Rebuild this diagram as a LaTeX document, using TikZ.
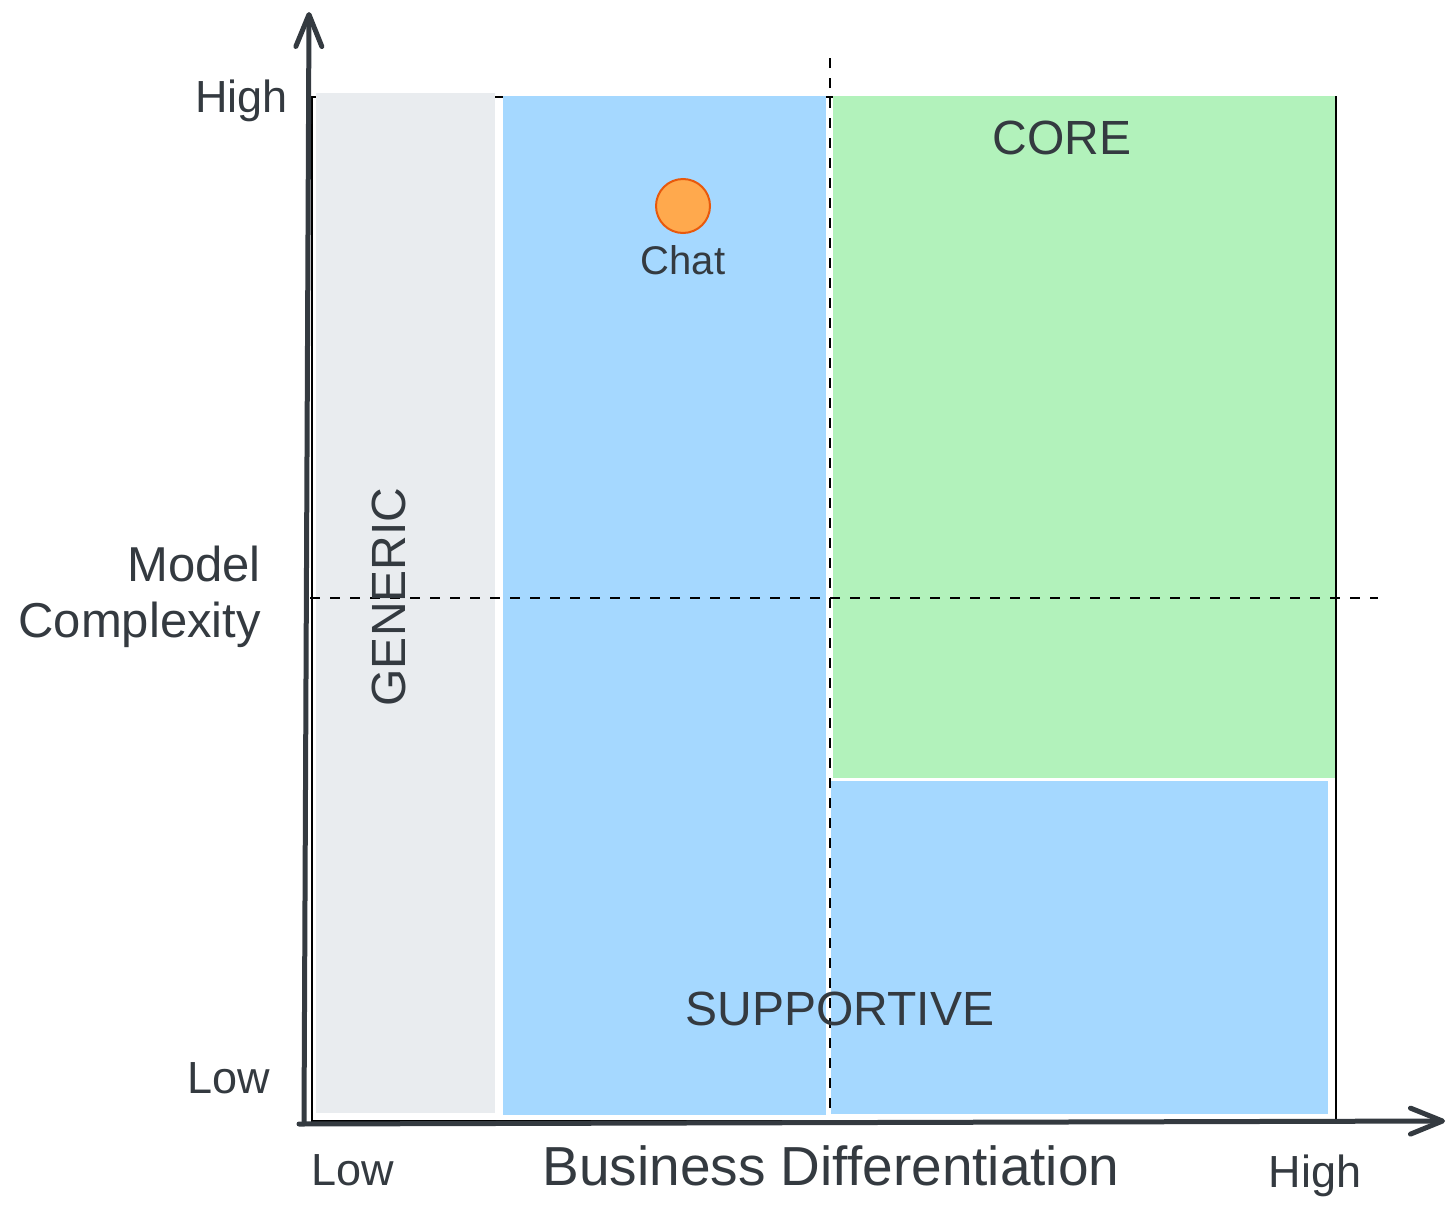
\documentclass[tikz,border=0pt]{standalone}
\usepackage{fontspec}
\setmainfont{Liberation Sans}
\usepackage{xcolor}
\definecolor{inkGray}{HTML}{343A40}
\definecolor{genericGray}{HTML}{E9ECEF}
\definecolor{supportBlue}{HTML}{A5D8FF}
\definecolor{coreGreen}{HTML}{B2F2BB}
\definecolor{dotOrange}{HTML}{FFA94D}
\definecolor{dotEdge}{HTML}{E8590C}
\usepackage{tikz}
\usetikzlibrary{arrows.meta, positioning}

\begin{document}
\begin{tikzpicture}[
    x=1pt, y=-1pt,
    node distance=9pt and 9pt,
    axisLine/.style={draw=inkGray, line width=5pt, line cap=round, -{Straight Barb[length=32pt, width=26pt, round]}},
    frameLine/.style={draw=black, line width=1.5pt},
    dashLine/.style={draw=black, line width=1.5pt, dash pattern=on 10pt off 10pt},
    genericZone/.style={fill=genericGray},
    supportZone/.style={fill=supportBlue},
    coreZone/.style={fill=coreGreen},
    chatDot/.style={circle, draw=dotEdge, fill=dotOrange, line width=2pt, minimum size=54pt, inner sep=0pt},
    dotText/.style={text=inkGray, inner sep=2pt, font=\fontsize{40}{46}\selectfont},
    zoneText/.style={text=inkGray, inner sep=2pt, font=\fontsize{48}{56}\selectfont},
    tickText/.style={text=inkGray, inner sep=2pt, font=\fontsize{45}{50}\selectfont},
    yTitle/.style={text=inkGray, inner sep=2pt, align=right, font=\fontsize{49}{56}\selectfont},
    xTitle/.style={text=inkGray, inner sep=2pt, font=\fontsize{55}{62}\selectfont}
]
\useasboundingbox (0,0) rectangle (1456,1218);

% Outer frame of the matrix
\draw[frameLine] (312,97) rectangle (1336,1121);

% Zones
\fill[genericZone] (316,93) rectangle (495,1113);
\fill[supportZone] (503,95.5) rectangle (826,1115);
\fill[coreZone] (833,95.5) rectangle (1335,778);
\fill[supportZone] (831,781) rectangle (1328,1114);

% Quadrant split lines
\coordinate (vTop) at (830,58);
\coordinate (vBot) at (830,1115);
\coordinate (hLeft) at (310,598);
\coordinate (hRight) at (1378,598);
\draw[dashLine] (vTop) -- (vBot);
\draw[dashLine] (hLeft) -- (hRight);

% Zone labels
\node[zoneText, anchor=base] (core) at (1062,154) {CORE};
\node[zoneText, anchor=base] (supportive) at (840,1025) {SUPPORTIVE};
\node[zoneText, rotate=90] (generic) at (389,597) {GENERIC};

% Chat point
\node[chatDot] (chat) at (683,206) {};
\node[dotText, below=9pt of chat] (chatLabel) {Chat};

% Axis labels
\node[tickText, anchor=base east] (yHigh) at (290,112) {High};
\node[tickText, anchor=base east] (yLow) at (272,1093) {Low};
\node[yTitle, anchor=east] (yName) at (263,597) {Model\\Complexity};
\node[tickText, anchor=base west] (xLow) at (309,1185) {Low};
\node[tickText, anchor=base] (xHigh) at (1315,1187) {High};
\node[xTitle, anchor=base] (xName) at (831,1185) {Business Differentiation};

% Axes
\coordinate (yStart) at (304,1122);
\coordinate (yEnd) at (309,12);
\coordinate (xStart) at (299,1124);
\coordinate (xEnd) at (1445,1121);
\draw[axisLine] (yStart) -- (yEnd);
\draw[axisLine] (xStart) -- (xEnd);

\end{tikzpicture}
\end{document}
